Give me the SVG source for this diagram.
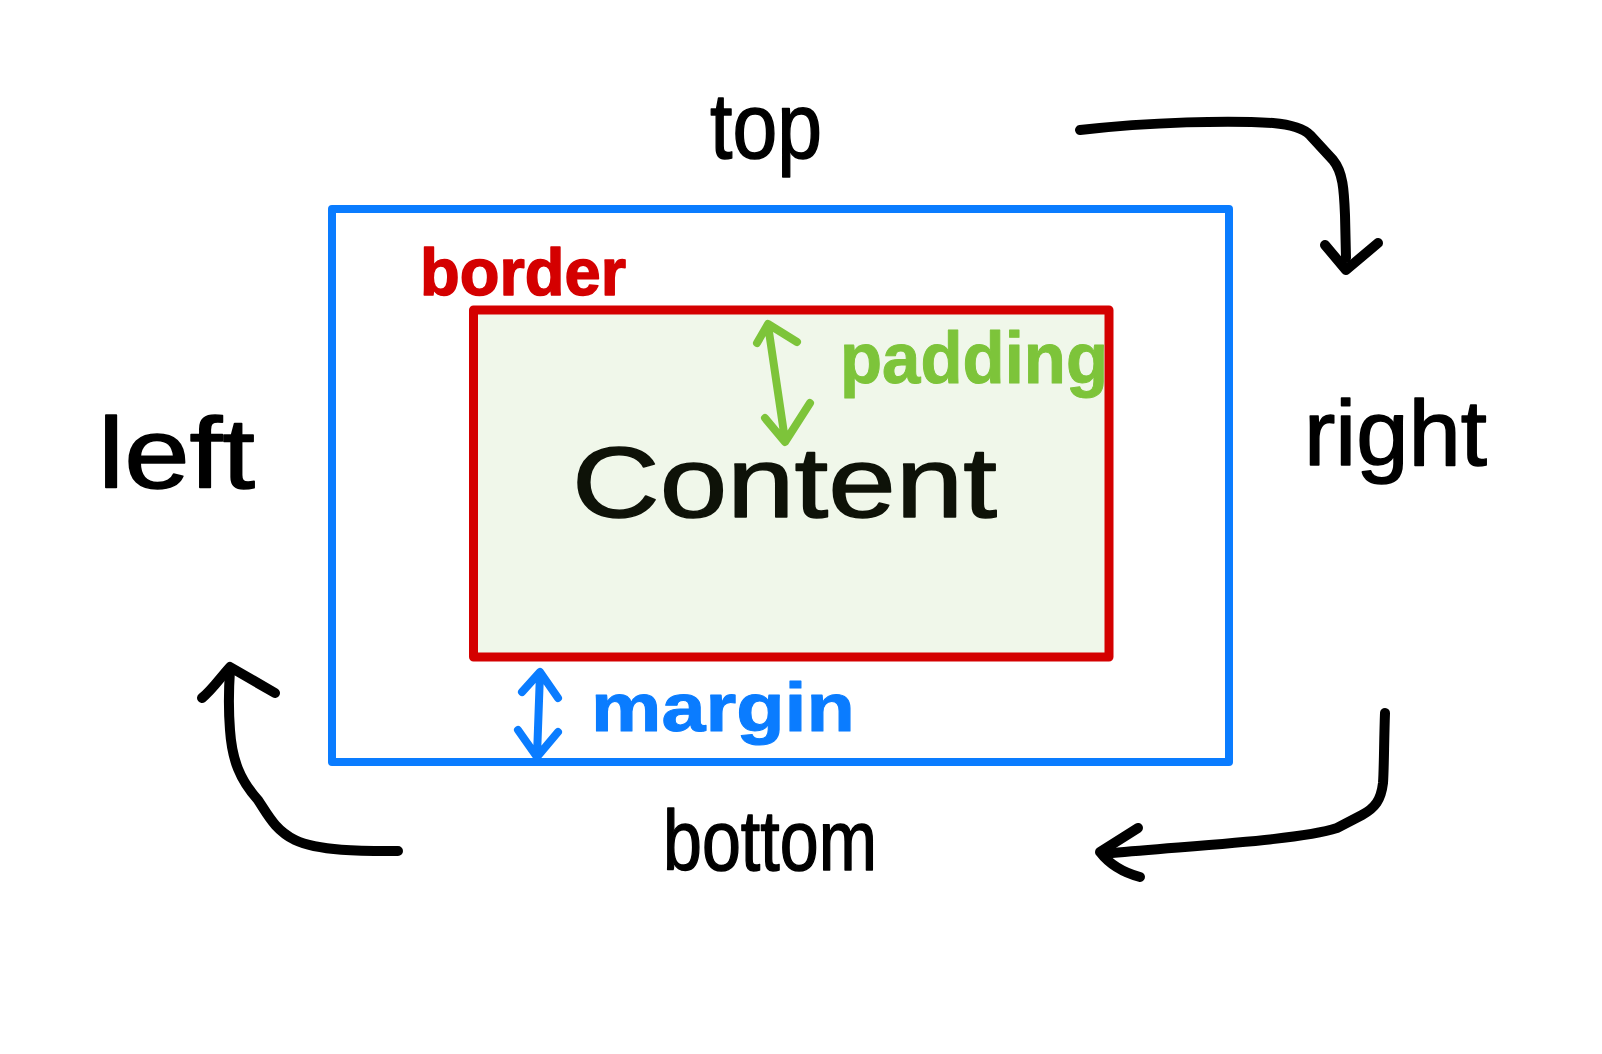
<svg xmlns="http://www.w3.org/2000/svg" width="1602" height="1054" viewBox="0 0 1602 1054">
<style>
.ink{fill:none;stroke-linecap:round;stroke-linejoin:round}
.blk{stroke:#000;stroke-width:10}
.lbl{font-family:"Liberation Sans",Arial,sans-serif;stroke-linejoin:round}
.side{fill:#000;stroke:#000;stroke-width:1.5}
</style>
<rect width="1602" height="1054" fill="#fff"/>
<g id="margin-box">
<rect x="332" y="209" width="897" height="553" fill="#fff" stroke="#0a7cff" stroke-width="8" stroke-linejoin="round"/>
</g>
<g id="border-box">
<rect x="473.5" y="310" width="635.5" height="347" fill="#f0f7ea" stroke="#d40000" stroke-width="9" stroke-linejoin="round"/>
<text class="lbl" x="420" y="295" font-size="66" font-weight="bold" fill="#d40000" stroke="#d40000" stroke-width="1.5" textLength="206" lengthAdjust="spacingAndGlyphs">border</text>
</g>
<g id="content">
<text class="lbl" x="572" y="517" font-size="100" fill="#0e1208" stroke="#0e1208" stroke-width="1.5" textLength="425" lengthAdjust="spacingAndGlyphs">Content</text>
</g>
<g id="padding">
<path class="ink" d="M768,325 L785,440 M757,343 L768,324 L797,342 M765,418 L785,442 L810,403" stroke="#7dc43a" stroke-width="8"/>
<text class="lbl" x="840" y="383" font-size="72" font-weight="bold" fill="#7dc43a" stroke="#7dc43a" stroke-width="1" textLength="268" lengthAdjust="spacingAndGlyphs">padding</text>
</g>
<g id="margin">
<path class="ink" d="M540,673 L537,756 M522,692 L540,672 L558,698 M518,730 L537,757 L558,732" stroke="#0a7cff" stroke-width="8"/>
<text class="lbl" x="591" y="731" font-size="68" font-weight="bold" fill="#0a7cff" stroke="#0a7cff" stroke-width="1" textLength="264" lengthAdjust="spacingAndGlyphs">margin</text>
</g>
<g id="top">
<text class="lbl side" x="710" y="158" font-size="92" textLength="112" lengthAdjust="spacingAndGlyphs">top</text>
</g>
<g id="right">
<text class="lbl side" x="1304" y="465" font-size="92" textLength="183" lengthAdjust="spacingAndGlyphs">right</text>
</g>
<g id="bottom">
<text class="lbl side" x="663" y="870" font-size="86" textLength="214" lengthAdjust="spacingAndGlyphs">bottom</text>
</g>
<g id="left">
<text class="lbl side" x="98" y="488" font-size="100" textLength="157" lengthAdjust="spacingAndGlyphs">left</text>
</g>
<g id="connectors">
<path class="ink blk" d="M1080,130 C1150,122 1230,120 1273,123 C1295,125 1305,130 1310,135 L1333,160 C1343,172 1344,190 1345,215 L1346,258"/>
<path class="ink blk" d="M1325,245 L1346,270 L1378,243"/>
<path class="ink blk" d="M1385,713 C1384,740 1384,770 1383,783 C1381,800 1375,808 1362,815 L1337,828 C1300,840 1200,845 1112,853"/>
<path class="ink blk" d="M1138,828 L1100,852 C1110,865 1125,873 1140,877"/>
<path class="ink blk" d="M398,851 C370,851 320,852 295,840 C275,830 268,815 258,800 C240,780 232,760 230,730 C228,705 229,685 230,670"/>
<path class="ink blk" d="M202,698 C212,690 220,678 230,667 L275,693"/>
</g>
</svg>
